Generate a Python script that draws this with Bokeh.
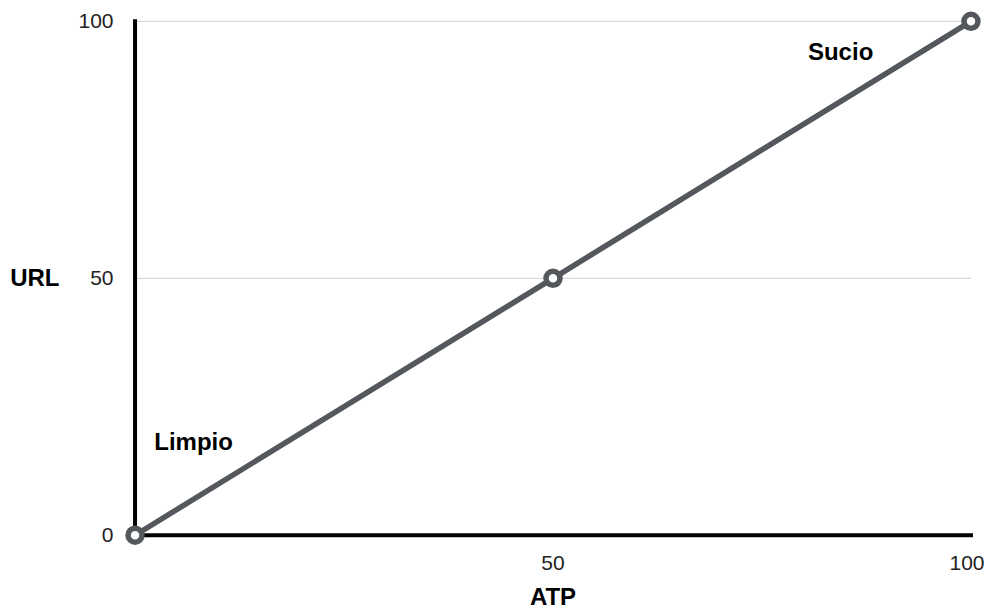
from bokeh.plotting import figure
from bokeh.models import Range1d, FixedTicker, ColumnDataSource
from bokeh.core.properties import value
from bokeh.embed import file_html
from bokeh.resources import INLINE

# data
atp = [0, 50, 100]
url = [0, 50, 100]
x_ticks = [50, 100]
y_ticks = [0, 50, 100]
grid_values = [50, 100]
label_texts = ["Limpio", "Sucio"]
label_x = [2.3, 80.5]
label_y = [18.3, 94.2]

FONT = "Liberation Sans"
LINE_COLOR = "#54575c"

p = figure(width=984, height=612, output_backend="svg", toolbar_location=None,
           x_range=Range1d(-1.5, 101.5), y_range=Range1d(-2.0, 102.5),
           min_border_left=122, min_border_right=1, min_border_top=8, min_border_bottom=67)
p.outline_line_color = None
p.background_fill_color = "white"
p.border_fill_color = "white"
p.xgrid.visible = False
p.ygrid.visible = False

# axes (labels only; axis lines drawn at the data origin below)
for ax in (p.xaxis[0], p.yaxis[0]):
    ax.axis_line_color = None
    ax.major_tick_in = 0
    ax.major_tick_out = 0
    ax.minor_tick_in = 0
    ax.minor_tick_out = 0
    ax.major_label_text_font = FONT
    ax.major_label_text_font_size = "21px"
    ax.major_label_text_color = "#222222"
    ax.axis_label_text_font = FONT
    ax.axis_label_text_font_style = "bold"
    ax.axis_label_text_font_size = "24px"
    ax.axis_label_text_color = "black"

p.xaxis[0].ticker = FixedTicker(ticks=x_ticks)
p.yaxis[0].ticker = FixedTicker(ticks=y_ticks)
p.xaxis[0].axis_label = "ATP"
p.yaxis[0].axis_label = "URL"
p.yaxis[0].axis_label_orientation = "horizontal"
p.yaxis[0].major_label_standoff = 9
p.yaxis[0].axis_label_standoff = 16
p.xaxis[0].major_label_standoff = 10
p.xaxis[0].axis_label_standoff = 10

x_min, x_max = atp[0], atp[-1]
y_min, y_max = url[0], url[-1]

# horizontal grid lines
p.segment(x0=[x_min] * len(grid_values), x1=[x_max] * len(grid_values),
          y0=grid_values, y1=grid_values, line_color="#d2d2d2", line_width=1)

# axis lines at the origin
p.segment(x0=[x_min, x_min], y0=[y_min, y_min], x1=[x_min, x_max], y1=[y_max, y_min],
          line_color="black", line_width=4, line_cap="square")

src = ColumnDataSource(dict(x=atp, y=url))
p.line("x", "y", source=src, line_color=LINE_COLOR, line_width=5.5)
p.scatter("x", "y", source=src, marker="circle", size=14, fill_color="white",
          line_color=LINE_COLOR, line_width=5.5)

lsrc = ColumnDataSource(dict(x=label_x, y=label_y, t=label_texts))
p.text("x", "y", text="t", source=lsrc, text_font=value(FONT), text_font_style="bold",
       text_font_size="24px", text_color="black", text_align="left", text_baseline="middle")

open("out.html", "w").write(file_html(p, INLINE))
